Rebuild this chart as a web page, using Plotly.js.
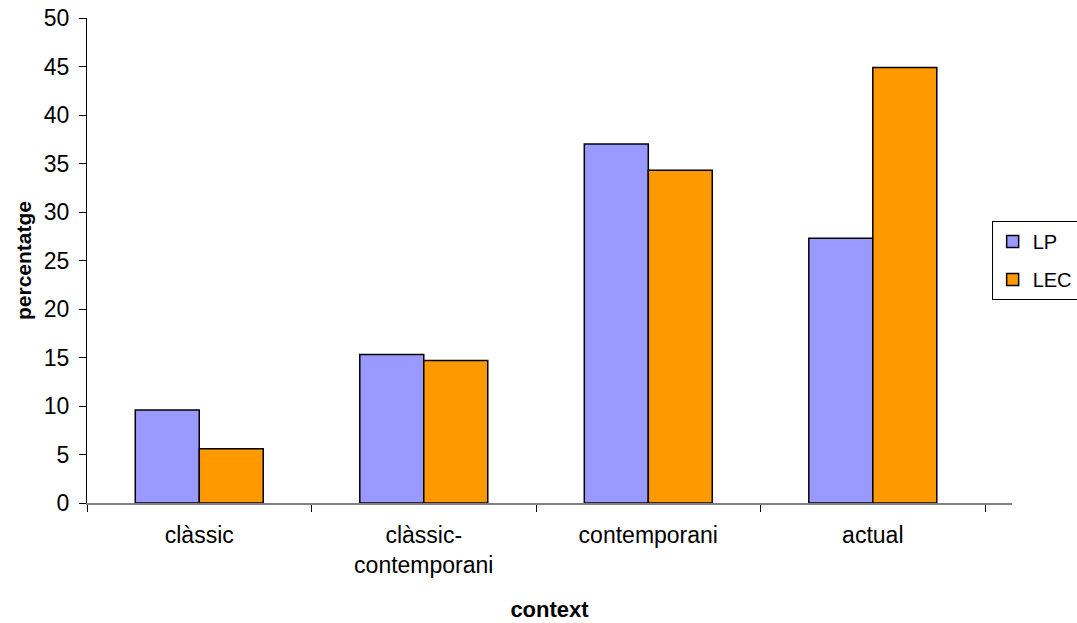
<!DOCTYPE html>
<html>
<head>
<meta charset="utf-8">
<script src="https://cdn.plot.ly/plotly-3.0.1.min.js"></script>
<style>
  html, body { margin: 0; padding: 0; background: #fff; }
  #chart { width: 1077px; height: 623px; }
</style>
</head>
<body>
<div id="chart"></div>
<script>
// Context categories (x axis) and percentages per series
const categories = ['clàssic', 'clàssic-<br>contemporani', 'contemporani', 'actual'];
const lpValues  = [9.6, 15.3, 37.0, 27.3];
const lecValues = [5.6, 14.7, 34.3, 44.9];
const yTicks = [0, 5, 10, 15, 20, 25, 30, 35, 40, 45, 50];

const font = 'Arial, "Liberation Sans", sans-serif';

const traces = [
  {
    type: 'bar', name: 'LP', x: categories, y: lpValues,
    marker: { color: '#9999FF', line: { color: '#000000', width: 1.5 } },
    legendgroup: 'a'
  },
  {
    type: 'bar', name: 'LEC', x: categories, y: lecValues,
    marker: { color: '#FF9900', line: { color: '#000000', width: 1.5 } },
    legendgroup: 'b'
  }
];

const layout = {
  width: 1077, height: 623,
  margin: { l: 87, r: 65, t: 18, b: 120, autoexpand: false },
  paper_bgcolor: '#ffffff', plot_bgcolor: '#ffffff',
  barmode: 'group', bargap: 0.43, bargroupgap: 0,
  font: { family: font, size: 23, color: '#000' },
  showlegend: true,
  legend: {
    x: 0.978, xanchor: 'left', y: 0.5, yanchor: 'middle',
    bordercolor: '#000', borderwidth: 1, bgcolor: '#fff',
    font: { family: font, size: 20, color: '#000' },
    traceorder: 'grouped', tracegroupgap: 9,
    itemwidth: 30
  },
  xaxis: {
    type: 'category',
    range: [-0.5, 3.62],
    showline: true, linecolor: '#808080', linewidth: 1.5,
    ticks: 'outside', tickson: 'boundaries', ticklen: 7, tickcolor: '#000',
    ticklabelstandoff: 11,
    tickfont: { family: font, size: 23, color: '#000' },
    showgrid: false, zeroline: false,
    title: { text: '<b>context</b>', font: { family: font, size: 22, color: '#000' }, standoff: 24 }
  },
  yaxis: {
    range: [0, 50], tickvals: yTicks, ticktext: yTicks.map(String),
    showline: true, linecolor: '#000', linewidth: 1,
    ticks: 'outside', ticklen: 7, tickcolor: '#000',
    ticklabelstandoff: 5,
    tickfont: { family: font, size: 23, color: '#000' },
    showgrid: false, zeroline: false,
    title: { text: '<b>percentatge</b>', font: { family: font, size: 21, color: '#000' }, standoff: 6 }
  }
};

Plotly.newPlot('chart', traces, layout, { displayModeBar: false, staticPlot: true });
</script>
</body>
</html>
